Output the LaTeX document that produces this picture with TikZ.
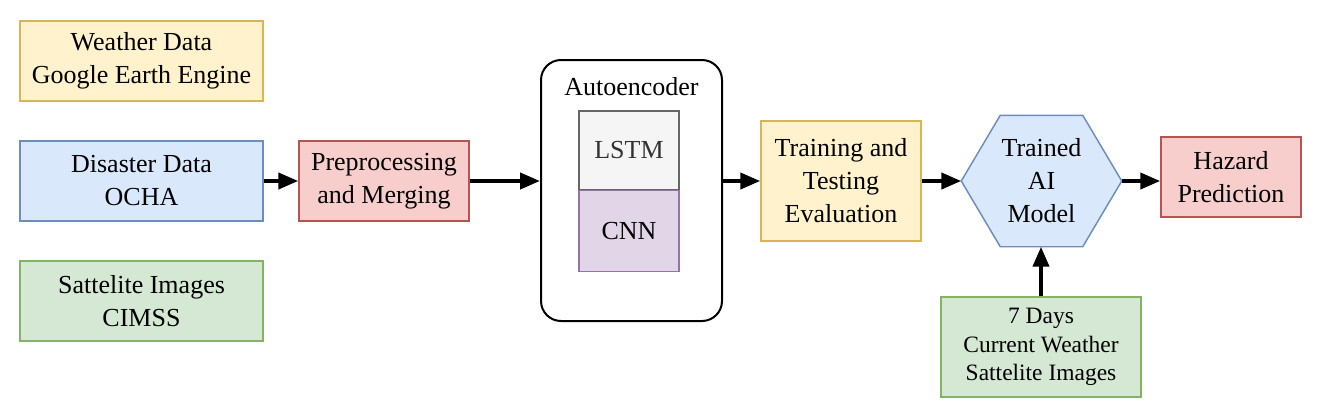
\documentclass[tikz,border=0pt]{standalone}
\usepackage{fontspec}
\setmainfont{Liberation Serif}
\usetikzlibrary{arrows.meta,backgrounds}
\definecolor{yfill}{HTML}{FFF2CC}\definecolor{ydraw}{HTML}{D6B656}
\definecolor{bfill}{HTML}{DAE8FC}\definecolor{bdraw}{HTML}{6C8EBF}
\definecolor{gfill}{HTML}{D5E8D4}\definecolor{gdraw}{HTML}{82B366}
\definecolor{rfill}{HTML}{F8CECC}\definecolor{rdraw}{HTML}{B85450}
\definecolor{lfill}{HTML}{F5F5F5}\definecolor{ldraw}{HTML}{666666}
\definecolor{pfill}{HTML}{E1D5E7}\definecolor{pdraw}{HTML}{9673A6}
\definecolor{ltext}{HTML}{333333}
\begin{document}
\begin{tikzpicture}[x=0.75pt,y=-0.75pt,
  box/.style={draw, line width=1.1pt, inner sep=0pt, align=center,
    font=\fontsize{19.5pt}{24.75pt}\selectfont},
  ybox/.style={box, fill=yfill, draw=ydraw},
  bbox/.style={box, fill=bfill, draw=bdraw},
  gbox/.style={box, fill=gfill, draw=gdraw},
  rbox/.style={box, fill=rfill, draw=rdraw},
  flow/.style={line width=3pt, -{Triangle[length=15pt,width=12pt]}}]
\useasboundingbox (0,0) rectangle (1322,418);
% sources
\node[ybox, minimum width=182.25pt, minimum height=60pt] (weather) at (141.5,61) {Weather Data\\Google Earth Engine};
\node[bbox, minimum width=182.25pt, minimum height=60pt] (disaster) at (141.5,181) {Disaster Data\\OCHA};
\node[gbox, minimum width=182.25pt, minimum height=60pt] (sat) at (141.5,301) {Sattelite Images\\CIMSS};
\node[rbox, minimum width=127.5pt, minimum height=60pt] (prep) at (384,181) {Preprocessing\\and Merging};
% autoencoder
\node[draw, line width=1.5pt, rounded corners=15pt, minimum width=135.75pt, minimum height=195.75pt] (auto) at (631.5,190.5) {};
\node[font=\fontsize{19.5pt}{24.75pt}\selectfont, inner sep=0pt] (autolabel) at (631.5,87) {Autoencoder};
\node[box, fill=lfill, draw=ldraw, text=ltext, minimum width=75pt, minimum height=59.25pt] (lstm) at (629,150.5) {LSTM};
\node[box, fill=pfill, draw=pdraw, minimum width=75pt, minimum height=60.75pt] (cnn) at (629,231) {CNN};
% training
\node[ybox, minimum width=120pt, minimum height=90pt] (train) at (841,181) {Training and\\Testing\\Evaluation};
% hexagon
\node[box, draw=none, minimum width=119.25pt, minimum height=97.5pt] (hex) at (1041.5,181) {Trained\\AI\\Model};
\begin{scope}[on background layer]
\draw[line width=1.1pt, draw=bdraw, fill=bfill]
  (hex.west) -- ([xshift=29.25pt]hex.north west) -- ([xshift=-29.25pt]hex.north east)
  -- (hex.east) -- ([xshift=-29.25pt]hex.south east) -- ([xshift=29.25pt]hex.south west) -- cycle;
\end{scope}
\node[rbox, minimum width=105pt, minimum height=60pt] (hazard) at (1231,177) {Hazard\\Prediction};
\node[gbox, minimum width=150pt, minimum height=75pt, font=\fontsize{17.6pt}{21.4pt}\selectfont] (days) at (1041,347) {7 Days\\Current Weather\\Sattelite Images};
% arrows
\draw[flow] (disaster.east) -- (prep.west);
\draw[flow] (prep.east) -- (prep.east -| auto.west);
\draw[flow] (auto.east |- train.west) -- (train.west);
\draw[flow] (train.east) -- (hex.west);
\draw[flow] (hex.east) -- (hex.east -| hazard.west);
\draw[flow] (days.north) -- (days.north |- hex.south);
\end{tikzpicture}
\end{document}
